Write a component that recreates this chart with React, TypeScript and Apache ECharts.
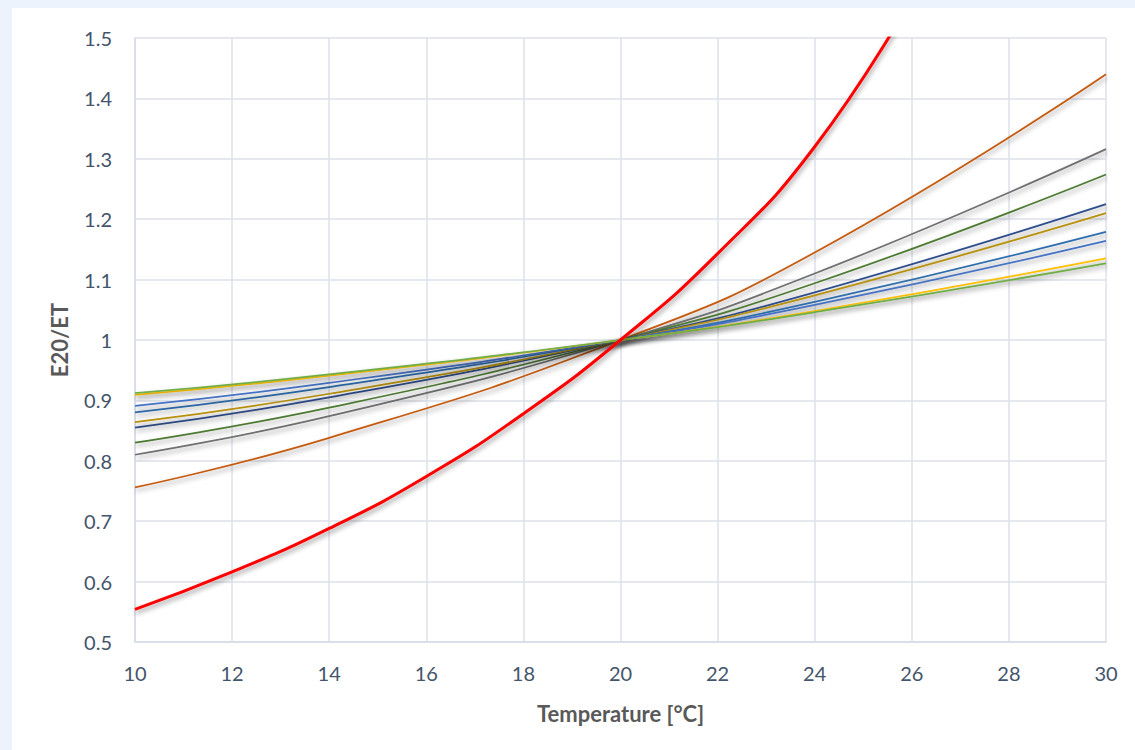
import React, { useEffect, useRef } from "react";
import * as echarts from "echarts";

const temps = [10, 14, 20, 24, 30];
const redTemps = [10, 12, 14, 16, 18, 20, 22, 24, 26];
const redValues = [0.554, 0.616, 0.688, 0.774, 0.878, 1.0, 1.143, 1.32, 1.565];

const brownValues = [0.756, 0.838, 1.0, 1.145, 1.44];
const grayValues = [0.81, 0.874, 1.0, 1.11, 1.316];
const darkGreenValues = [0.83, 0.888, 1.0, 1.094, 1.274];
const darkBlueValues = [0.855, 0.905, 1.0, 1.079, 1.225];
const goldValues = [0.864, 0.911, 1.0, 1.074, 1.21];
const steelBlueValues = [0.88, 0.922, 1.0, 1.063, 1.179];
const blueValues = [0.891, 0.929, 1.0, 1.058, 1.164];
const yellowValues = [0.909, 0.941, 1.0, 1.048, 1.135];
const greenValues = [0.912, 0.943, 1.0, 1.046, 1.127];

const xTicks = [10, 12, 14, 16, 18, 20, 22, 24, 26, 28, 30];
const yTicks = [0.5, 0.6, 0.7, 0.8, 0.9, 1, 1.1, 1.2, 1.3, 1.4, 1.5];

const thinSeries = [
  { name: "S1", values: brownValues, color: "#C55A11" },
  { name: "S2", values: grayValues, color: "#6F6F6F" },
  { name: "S3", values: darkGreenValues, color: "#4E7A32" },
  { name: "S4", values: darkBlueValues, color: "#2F4E8C" },
  { name: "S5", values: goldValues, color: "#B8900A" },
  { name: "S6", values: steelBlueValues, color: "#2E6DAE" },
  { name: "S7", values: blueValues, color: "#4472C4" },
  { name: "S8", values: yellowValues, color: "#FFC000" },
  { name: "S9", values: greenValues, color: "#70AD47" },
];

const labelColor = "#44546A";
const font = "Lato, 'Open Sans', sans-serif";

export default function App() {
  const ref = useRef<HTMLDivElement>(null);
  useEffect(() => {
    if (!ref.current) return;
    const chart = echarts.init(ref.current, undefined, { renderer: "svg" });
    const shadow = {
      shadowColor: "rgba(0,0,0,0.4)",
      shadowBlur: 5,
      shadowOffsetX: 1,
      shadowOffsetY: 3,
    };
    const series: any[] = thinSeries.map((s) => ({
      name: s.name,
      type: "line",
      data: temps.map((t, i) => [t, s.values[i]]),
      smooth: true,
      showSymbol: false,
      symbol: "none",
      clip: true,
      lineStyle: { color: s.color, width: 1.75, ...shadow },
      itemStyle: { color: s.color },
    }));
    series.push({
      name: "Red",
      type: "line",
      data: redTemps.map((t, i) => [t, redValues[i]]),
      smooth: true,
      showSymbol: false,
      symbol: "none",
      clip: true,
      z: 5,
      lineStyle: { color: "#FF0000", width: 3, ...shadow },
      itemStyle: { color: "#FF0000" },
    });
    chart.setOption({
      animation: false,
      grid: { left: 135, right: 29, top: 38, bottom: 108, containLabel: false },
      xAxis: {
        type: "value",
        min: 10,
        max: 30,
        interval: 2,
        name: "Temperature [°C]",
        nameLocation: "middle",
        nameGap: 60,
        nameTextStyle: { fontFamily: font, fontSize: 22, fontWeight: "bold", color: "#595959" },
        axisLine: { show: true, lineStyle: { color: "#D6DBE5", width: 1.5 } },
        axisTick: { show: false },
        axisLabel: {
          margin: 21,
          fontFamily: font,
          fontSize: 20,
          color: labelColor,
          formatter: (v: number) => (xTicks.includes(v) ? String(v) : ""),
        },
        splitLine: { show: true, lineStyle: { color: "#DDE2EA", width: 1.5 } },
      },
      yAxis: {
        type: "value",
        min: 0.5,
        max: 1.5,
        interval: 0.1,
        name: "E20/ET",
        nameLocation: "middle",
        nameGap: 65,
        nameRotate: 90,
        nameTextStyle: { fontFamily: font, fontSize: 22, fontWeight: "bold", color: "#595959" },
        axisLine: { show: true, lineStyle: { color: "#D6DBE5", width: 1.5 } },
        axisTick: { show: false },
        axisLabel: {
          margin: 23,
          fontFamily: font,
          fontSize: 20,
          color: labelColor,
          formatter: (v: number) => {
            const r = Math.round(v * 10) / 10;
            return yTicks.includes(r) ? String(r) : "";
          },
        },
        splitLine: { show: true, lineStyle: { color: "#DDE2EA", width: 1.5 } },
      },
      series,
    });
    return () => chart.dispose();
  }, []);
  return (
    <div style={{ position: "fixed", left: 0, top: 0, width: 1135, height: 750, background: "#ECF3FD", overflow: "hidden" }}>
      <div style={{ position: "absolute", left: 12, top: 8, width: 1123, height: 742, background: "#FFFFFF" }} />
      <div ref={ref} style={{ position: "absolute", left: 0, top: 0, width: 1135, height: 750 }} />
    </div>
  );
}
